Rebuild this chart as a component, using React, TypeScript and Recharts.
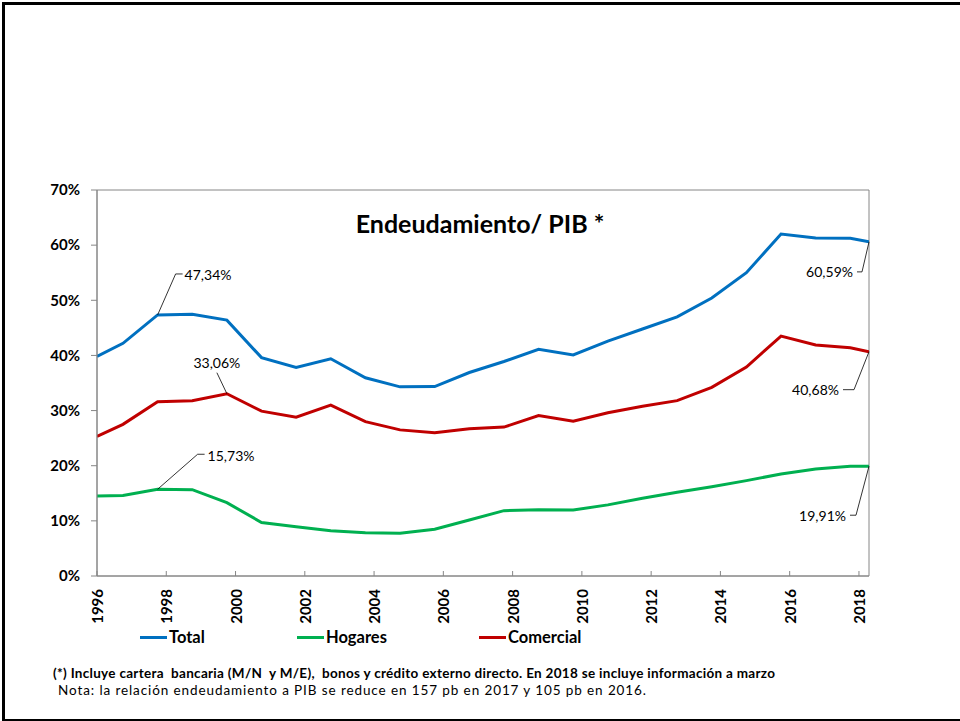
import React from "react";
import { LineChart, Line, XAxis, YAxis, Legend, LabelList, ReferenceArea } from "recharts";

// fechas aproximadas de cada observación (año decimal)
const years = [
  1996.0, 1996.75, 1997.75, 1998.75, 1999.75, 2000.75, 2001.75, 2002.75, 2003.75, 2004.75, 2005.75, 2006.75,
  2007.75, 2008.75, 2009.75, 2010.75, 2011.75, 2012.75, 2013.75, 2014.75, 2015.75, 2016.75, 2017.75, 2018.29,
];
const total = [
  39.8, 42.2, 47.34, 47.45, 46.4, 39.6, 37.8, 39.4, 35.95, 34.3, 34.35, 36.9,
  38.9, 41.1, 40.1, 42.6, 44.8, 47.0, 50.4, 55.0, 62.0, 61.3, 61.25, 60.59,
];
const hogares = [
  14.5, 14.6, 15.73, 15.65, 13.3, 9.7, 8.95, 8.2, 7.86, 7.74, 8.47, 10.15,
  11.85, 12.0, 11.97, 12.9, 14.1, 15.2, 16.2, 17.3, 18.5, 19.4, 19.9, 19.91,
];
const comercial = [
  25.3, 27.5, 31.6, 31.8, 33.06, 29.9, 28.8, 31.0, 28.0, 26.5, 26.0, 26.7,
  27.0, 29.1, 28.05, 29.6, 30.8, 31.8, 34.2, 37.9, 43.5, 41.9, 41.4, 40.68,
];
const yearTicks = [1996, 1998, 2000, 2002, 2004, 2006, 2008, 2010, 2012, 2014, 2016, 2018];
const pctTicks = [0, 10, 20, 30, 40, 50, 60, 70];
const seriesNames = ["Total", "Hogares", "Comercial"];

const data = years.map((year, i) => ({
  year,
  total: total[i],
  hogares: hogares[i],
  comercial: comercial[i],
}));

const FONT = "Lato, 'Open Sans', sans-serif";
const AXIS = "#868686";

const fmt = (v: number) => v.toFixed(2).replace(".", ",") + "%";

type Note = {
  index: number;
  path: [number, number][];
  tx: number;
  ty: number;
  anchor: "start" | "middle" | "end";
};

function callout(notes: Note[]) {
  return (props: any) => {
    const { x, y, index, value } = props;
    const note = notes.find((n) => n.index === index);
    if (!note || x == null || y == null) return null;
    const pts = [[x, y], ...note.path.map(([dx, dy]) => [x + dx, y + dy])];
    return (
      <g>
        <polyline points={pts.map((p) => p.join(",")).join(" ")} fill="none" stroke="#000" strokeWidth={0.8} />
        <text x={x + note.tx} y={y + note.ty} textAnchor={note.anchor} dominantBaseline="central"
          fontSize={14} fontFamily={FONT} fill="#000">
          {fmt(Number(value))}
        </text>
      </g>
    );
  };
}

const totalNotes: Note[] = [
  { index: 2, path: [[18, -41], [25, -41]], tx: 27, ty: -40, anchor: "start" },
  { index: 23, path: [[-7, 30], [-12, 30]], tx: -16, ty: 30, anchor: "end" },
];
const hogaresNotes: Note[] = [
  { index: 2, path: [[40, -35], [47, -35]], tx: 50, ty: -34, anchor: "start" },
  { index: 23, path: [[-13, 49], [-19, 49]], tx: -23, ty: 49, anchor: "end" },
];
const comercialNotes: Note[] = [
  { index: 4, path: [[-10, -21]], tx: -10, ty: -31, anchor: "middle" },
  { index: 23, path: [[-15, 38], [-26, 38]], tx: -30, ty: 38, anchor: "end" },
];

const YearTick = (props: any) => {
  const { x, y, payload } = props;
  return (
    <text x={x} y={y} transform={`rotate(-90, ${x}, ${y})`} textAnchor="end" dominantBaseline="central"
      fontSize={15} fontWeight={700} fontFamily={FONT} fill="#000">
      {payload.value}
    </text>
  );
};

const legendX = [140, 297, 479];

const renderLegend = (props: any) => (
  <div style={{ position: "relative", height: 24, fontFamily: FONT }}>
    {(props.payload || []).map((e: any) => {
      const i = seriesNames.indexOf(e.value);
      return (
        <div key={e.value} style={{ position: "absolute", left: legendX[i], top: 0, display: "flex", alignItems: "center", height: 24 }}>
          <span style={{ display: "inline-block", width: 27, height: 3, background: e.color, marginRight: 2 }} />
          <span style={{ fontSize: 16.5, fontWeight: 700, color: "#000" }}>{e.value}</span>
        </div>
      );
    })}
  </div>
);

export default function App() {
  return (
    <div style={{ position: "absolute", left: 0, top: 0, width: 960, height: 721, background: "#fff", overflow: "hidden" }}>
      <div style={{ position: "absolute", left: 2, top: 2, width: 1000, height: 719, boxSizing: "border-box",
        borderTop: "3px solid #000", borderLeft: "3px solid #000", borderBottom: "2px solid #000" }} />
      <LineChart width={960} height={721} data={data} margin={{ top: 190, right: 91, bottom: 95, left: 37 }}>
        <ReferenceArea x1={1996} x2={2018.29} y1={0} y2={70} fill="none" stroke={AXIS} strokeWidth={1} />
        <XAxis dataKey="year" type="number" domain={[1996, 2018.29]} ticks={yearTicks} allowDataOverflow
          height={50} stroke={AXIS} tickSize={-5} tickMargin={18} tick={<YearTick />} interval={0} />
        <YAxis domain={[0, 70]} ticks={pctTicks} width={60} stroke={AXIS} tickSize={6} tickMargin={11}
          tickFormatter={(v: number) => `${v}%`}
          tick={{ fontSize: 15, fontWeight: 700, fontFamily: FONT, fill: "#000" }} />
        <Legend content={renderLegend} layout="horizontal" verticalAlign="middle" align="center"
          wrapperStyle={{ position: "absolute", left: 0, top: 625, width: 960 }} />
        <Line dataKey="total" name="Total" stroke="#0070C0" strokeWidth={3} dot={false} isAnimationActive={false}>
          <LabelList dataKey="total" content={callout(totalNotes)} />
        </Line>
        <Line dataKey="hogares" name="Hogares" stroke="#00B050" strokeWidth={3} dot={false} isAnimationActive={false}>
          <LabelList dataKey="hogares" content={callout(hogaresNotes)} />
        </Line>
        <Line dataKey="comercial" name="Comercial" stroke="#C00000" strokeWidth={3} dot={false} isAnimationActive={false}>
          <LabelList dataKey="comercial" content={callout(comercialNotes)} />
        </Line>
      </LineChart>
      <div style={{ position: "absolute", left: 0, width: 960, top: 207, textAlign: "center",
        fontFamily: FONT, fontWeight: 700, fontSize: 25, color: "#000", lineHeight: "32px" }}>
        Endeudamiento/ PIB *
      </div>
      <div style={{ position: "absolute", left: 53, top: 665, fontFamily: FONT, fontWeight: 700, fontSize: 13.5,
        letterSpacing: 0.3, color: "#000", lineHeight: "16px", whiteSpace: "pre" }}>
        (*) Incluye cartera  bancaria (M/N  y M/E),  bonos y crédito externo directo. En 2018 se incluye información a marzo
      </div>
      <div style={{ position: "absolute", left: 58, top: 682, fontFamily: FONT, fontSize: 13.5,
        letterSpacing: 0.9, color: "#000", lineHeight: "16px", whiteSpace: "pre" }}>
        Nota: la relación endeudamiento a PIB se reduce en 157 pb en 2017 y 105 pb en 2016.
      </div>
    </div>
  );
}
